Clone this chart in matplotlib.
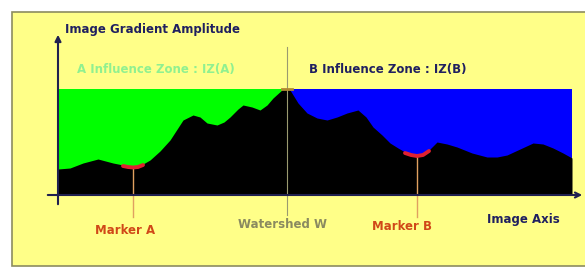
import numpy as np
from matplotlib import pyplot as plt
from matplotlib.patches import Rectangle

# positions along the image axis and gradient amplitude of the profile
pos = [0, 12, 25, 40, 55, 65, 70, 75, 80, 85, 92, 102, 112, 125, 135, 142, 149,
       159, 166, 172, 180, 185, 194, 202, 209, 215, 225, 229, 232, 240, 249, 259,
       269, 279, 289, 300, 308, 315, 324, 332, 340, 347, 353, 359, 365, 371, 379,
       389, 399, 414, 429, 439, 449, 462, 475, 485, 495, 505, 514]
amp = [26, 27, 32, 36, 32, 30, 29, 28.5, 29, 31, 35, 44, 55, 75, 80, 78, 72,
       70, 73, 78, 86, 90, 88, 85, 90, 97, 106, 106, 105, 92, 82, 77,
       75, 78, 82, 85, 78, 68, 60, 52, 47, 43, 41, 40, 41, 45, 53,
       51, 48, 42, 38, 38, 40, 46, 52, 51, 47, 42, 37]

zone_top = 106
watershed = 229
marker_a = 75
marker_b = 359

labels = ["Image Gradient Amplitude", "A Influence Zone : IZ(A)",
          "B Influence Zone : IZ(B)", "Marker A", "Watershed W", "Marker B",
          "Image Axis"]

pos = np.array(pos)
amp = np.array(amp)

fig = plt.figure(figsize=(5.85, 2.68), dpi=100)
fig.patch.set_facecolor("white")
ax = fig.add_axes([0, 0, 1, 1])
ax.set_xlim(-58, 527)
ax.set_ylim(-73, 195)
ax.axis("off")

# yellow panel
ax.add_patch(Rectangle((-46, -71), 600, 254, facecolor="#FFFF88",
                       edgecolor="#8C8C60", lw=1.2, zorder=0))

# influence zones
ax.fill_between([0, watershed], 0, zone_top, color="#00FF00", lw=0, zorder=1)
ax.fill_between([watershed, pos[-1]], 0, zone_top, color="#0000FF", lw=0, zorder=1)
ax.fill_between(pos, 0, amp, color="black", lw=0, zorder=2)

# watershed line
ax.plot([watershed, watershed], [-20, 148], color="#9A9A70", lw=0.8, zorder=3)
ax.plot([watershed - 5, watershed + 5], [zone_top, zone_top], color="#B08A30", lw=2, zorder=3)

# markers
for m in (marker_a, marker_b):
    sel = (pos >= m - 16) & (pos <= m + 16)
    ax.plot(pos[sel], amp[sel] - 1, color="#E02030", lw=2.8, zorder=4,
            solid_capstyle="round")
    ax.plot([m, m], [amp[pos == m][0], -22], color="#E0A060", lw=1, zorder=3)

# axes arrows
ax.annotate("", xy=(0, 163), xytext=(0, -12),
            arrowprops=dict(arrowstyle="-|>", color="#202050", lw=1.5, mutation_scale=9))
ax.annotate("", xy=(527, 0), xytext=(-13, 0),
            arrowprops=dict(arrowstyle="->", color="#202050", lw=1.5, mutation_scale=9))

fs = 8.5
ax.text(7, 165, labels[0], color="#202060", fontsize=fs, fontweight="bold", va="center")
ax.text(19, 125, labels[1], color="#90F090", fontsize=fs, fontweight="bold", va="center")
ax.text(251, 125, labels[2], color="#202060", fontsize=fs, fontweight="bold", va="center")
ax.text(67, -36, labels[3], color="#D04818", fontsize=fs, fontweight="bold", ha="center", va="center")
ax.text(224, -29, labels[4], color="#8A8A60", fontsize=fs, fontweight="bold", ha="center", va="center")
ax.text(344, -32, labels[5], color="#D04818", fontsize=fs, fontweight="bold", ha="center", va="center")
ax.text(465, -25, labels[6], color="#202060", fontsize=fs, fontweight="bold", ha="center", va="center")

fig.savefig("out.png", dpi=100)
